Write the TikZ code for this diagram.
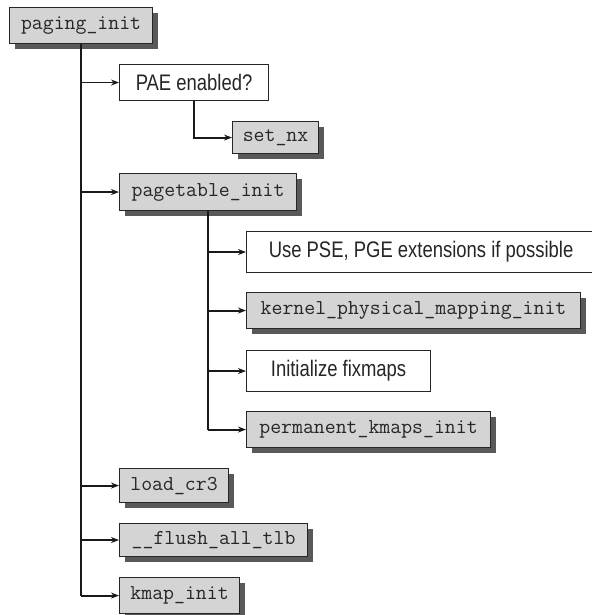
\documentclass[tikz,border=0pt]{standalone}
\usepackage{fontspec}
\newfontfamily\condsans[FakeStretch=0.82]{Liberation Sans}
\usetikzlibrary{arrows.meta}
\usetikzlibrary{shadows}

\newcommand{\callfont}{\ttfamily\fontsize{21.2}{22}\selectfont}
\newcommand{\notefont}{\condsans\fontsize{22.5}{24}\selectfont}

\begin{document}
\begin{tikzpicture}[x=1pt, y=-1pt,
  callbox/.style={draw=black!85, line width=1.1pt, fill=black!17, text=black!85,
    font=\callfont, anchor=north west, inner sep=0pt,
    drop shadow={shadow xshift=5pt, shadow yshift=-5pt, fill=black!65, opacity=1}},
  notebox/.style={draw=black!85, line width=1.1pt, fill=white, text=black!85,
    font=\notefont, anchor=north west, inner sep=0pt},
  trunk/.style={draw=black!90, line width=2.8pt},
  branch/.style={draw=black!90, line width=1.9pt, -{Stealth[length=8pt, width=6pt]}}]
  \useasboundingbox (0,0) rectangle (591,615);

  % calls and notes
  \node[callbox, minimum width=143pt, minimum height=36pt] (paging) at (9,7) {paging\_init};
  \node[notebox, minimum width=149pt, minimum height=36pt] (pae) at (119,64) {PAE enabled?};
  \node[callbox, minimum width=86pt, minimum height=32pt] (setnx) at (232,121) {set\_nx};
  \node[callbox, minimum width=177pt, minimum height=37pt] (pagetable) at (119,173) {pagetable\_init};
  \node[notebox, minimum width=349pt, minimum height=41pt] (pse) at (246,231) {Use PSE, PGE extensions if possible};
  \node[callbox, minimum width=334pt, minimum height=36pt] (kernel) at (246,292) {kernel\_physical\_mapping\_init};
  \node[notebox, minimum width=184pt, minimum height=41pt] (fixmaps) at (246,350) {Initialize fixmaps};
  \node[callbox, minimum width=244pt, minimum height=36pt] (permanent) at (246,411) {permanent\_kmaps\_init};
  \node[callbox, minimum width=109pt, minimum height=34pt] (loadcr) at (119,468) {load\_cr3};
  \node[callbox, minimum width=188pt, minimum height=33pt] (flush) at (119,523) {\_\_flush\_all\_tlb};
  \node[callbox, minimum width=120pt, minimum height=36pt] (kmap) at (119,577) {kmap\_init};

  % main trunk
  \draw[trunk] (paging.south) -- (paging.south |- kmap.west);
  \foreach \n in {pae, pagetable, loadcr, flush, kmap}
    \draw[branch] (paging.south |- \n.west) -- (\n.west);

  % PAE branch
  \draw[branch] (pae.south) |- (setnx.west);

  % pagetable_init branch
  \draw[trunk] (pagetable.south) -- (pagetable.south |- permanent.west);
  \foreach \n in {pse, kernel, fixmaps, permanent}
    \draw[branch] (pagetable.south |- \n.west) -- (\n.west);
\end{tikzpicture}
\end{document}
